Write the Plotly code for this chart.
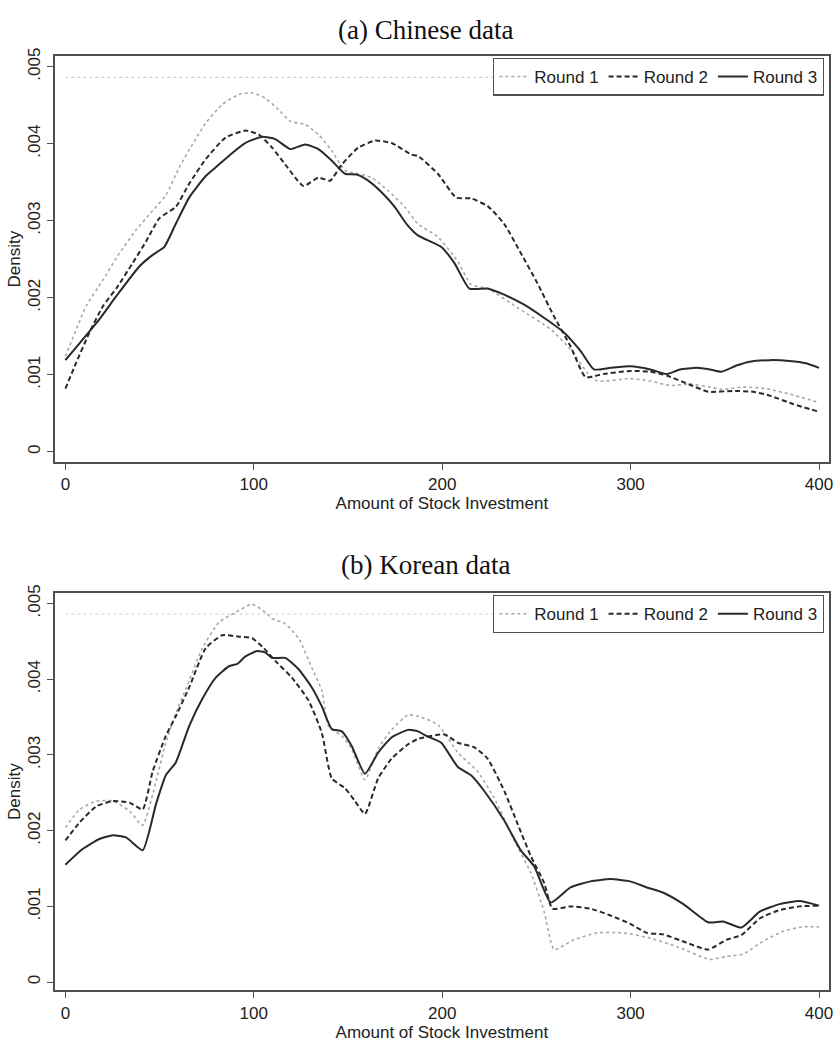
import plotly.graph_objects as go

# ---------------- data ----------------
# (a) Chinese data
cn_r1_x = [0, 11, 19.9, 28.7, 37.5, 46.3, 53.3, 60.4, 67.4, 74.5, 83.3, 92.1, 99.1, 106.2, 113.2, 119.4,
           127.3, 134.3, 141.4, 148.4, 155.5, 162.5, 171.3, 180.1, 187.1, 197.7, 208.3, 215.3, 224.1,
           240, 257.6, 268.1, 276.9, 282.2, 299.8, 310.4, 320.9, 331.5, 342.1, 348.2, 359.7, 372.1, 384.3, 400]
cn_r1_y = [1.24, 1.89, 2.23, 2.58, 2.88, 3.13, 3.33, 3.69, 3.99, 4.27, 4.51, 4.64, 4.66, 4.59, 4.44, 4.29,
           4.25, 4.12, 3.91, 3.65, 3.61, 3.56, 3.39, 3.18, 2.96, 2.79, 2.47, 2.17, 2.12,
           1.87, 1.59, 1.33, 1.03, 0.92, 0.95, 0.92, 0.86, 0.88, 0.84, 0.81, 0.84, 0.82, 0.75, 0.64]

cn_r2_x = [0, 5.8, 12.8, 19.9, 27, 35.7, 42.8, 49.8, 58.6, 65.7, 74.5, 85, 95.6, 102.6, 109.7, 116.7, 122,
           126.4, 134.3, 140.5, 146.7, 155.5, 164.3, 173.1, 183.6, 187.1, 197.7, 207.4, 215.3, 224.1,
           232.9, 241.7, 250.5, 259.3, 268.1, 276.1, 285.7, 299.8, 310.4, 319.2, 331.5, 341.2, 354.4,
           365, 373.8, 386.2, 400]
cn_r2_y = [0.82, 1.16, 1.55, 1.89, 2.12, 2.45, 2.73, 3.03, 3.18, 3.48, 3.80, 4.08, 4.17, 4.12, 3.95, 3.73, 3.56,
           3.45, 3.56, 3.52, 3.73, 3.95, 4.04, 4.01, 3.86, 3.84, 3.61, 3.30, 3.29, 3.19,
           2.96, 2.58, 2.19, 1.76, 1.37, 0.97, 1.01, 1.05, 1.04, 0.99, 0.87, 0.78, 0.79,
           0.78, 0.73, 0.62, 0.52]

cn_r3_x = [0, 18, 27, 39, 46, 52.5, 58.6, 65.7, 74.5, 80.6, 88.6, 95.6, 104.4, 111.4, 119.4, 127.3, 134.3,
           141.4, 148.4, 154.6, 160.7, 167.8, 174.8, 181, 187.1, 199.5, 206.5, 214.4, 224.1, 232.9, 243.5,
           254, 264.6, 273.4, 280.5, 289.3, 299.8, 310.4, 319.2, 326.2, 335, 342.1, 348.2, 356.2, 363.2,
           373.8, 384.3, 393.1, 400]
cn_r3_y = [1.19, 1.72, 2.02, 2.40, 2.55, 2.66, 2.96, 3.30, 3.58, 3.71, 3.88, 4.01, 4.09, 4.06, 3.93, 3.99, 3.93,
           3.78, 3.61, 3.60, 3.52, 3.37, 3.18, 2.96, 2.81, 2.66, 2.45, 2.12, 2.12, 2.04, 1.91,
           1.74, 1.55, 1.31, 1.07, 1.09, 1.11, 1.07, 1.01, 1.07, 1.09, 1.07, 1.04, 1.12, 1.17,
           1.19, 1.18, 1.15, 1.09]

# (b) Korean data
kr_r1_x = [0, 7.6, 16.4, 25.2, 34, 41, 48.1, 53.3, 58.6, 65.7, 72.7, 81.5, 90.3, 99.1, 106.2, 109.7, 116.7,
           123.8, 130.8, 136.1, 139.6, 146.7, 151.9, 159, 166, 173.1, 181.9, 187.1, 197.7, 208.3, 218.8,
           227.6, 238.2, 247.1, 254.1, 259.4, 269.9, 282.2, 296.3, 310.4, 324.4, 342.1, 350.9, 359.7,
           370.3, 380.9, 391.5, 400]
kr_r1_y = [2.04, 2.28, 2.39, 2.39, 2.26, 2.07, 2.65, 3.16, 3.55, 3.98, 4.41, 4.75, 4.88, 4.99, 4.88, 4.80, 4.73,
           4.54, 4.15, 3.85, 3.38, 3.25, 3.08, 2.67, 3.08, 3.33, 3.53, 3.51, 3.40, 3.03, 2.78,
           2.43, 1.87, 1.44, 0.93, 0.43, 0.56, 0.65, 0.65, 0.58, 0.47, 0.30, 0.34, 0.37,
           0.54, 0.67, 0.73, 0.73]

kr_r2_x = [0, 7.6, 16.4, 25.2, 34, 41, 46.3, 53.3, 58.6, 65.7, 74.5, 83.3, 92.1, 99.1, 105.3, 111.4, 120.2,
           129, 136.1, 141.4, 148.4, 153.7, 159, 166, 173.1, 181.9, 187.1, 201.2, 208.3, 217.1, 224.1,
           233, 240, 247.1, 254.1, 258.5, 268.1, 278.7, 289.3, 299.8, 308.6, 317.4, 329.7, 341.2, 350.9,
           358.8, 368.5, 379, 389.6, 400]
kr_r2_y = [1.87, 2.11, 2.32, 2.39, 2.37, 2.28, 2.78, 3.25, 3.51, 3.89, 4.41, 4.58, 4.56, 4.54, 4.41, 4.24, 4.02,
           3.72, 3.29, 2.69, 2.56, 2.39, 2.22, 2.69, 2.95, 3.14, 3.21, 3.27, 3.16, 3.10, 2.95,
           2.52, 2.09, 1.66, 1.31, 0.97, 1.00, 0.97, 0.88, 0.77, 0.65, 0.63, 0.52, 0.43, 0.56,
           0.62, 0.84, 0.95, 1.00, 1.01]

kr_r3_x = [0, 9.3, 18.1, 25.2, 32.2, 41, 48.1, 53.3, 58.6, 65.7, 72.7, 79.8, 86.8, 91.2, 95.6, 101.8, 106.2,
           109.7, 116.7, 123.8, 130.8, 136.1, 141.4, 146.7, 151.9, 159, 166, 173.1, 181.9, 187.1, 192.4,
           199.5, 208.3, 215.3, 222.4, 233, 241.7, 248.8, 257.6, 268.1, 278.7, 289.3, 299.8, 308.6, 317.4,
           328, 341.2, 349.1, 358.8, 368.5, 379, 389.6, 400]
kr_r3_y = [1.55, 1.76, 1.89, 1.94, 1.91, 1.74, 2.35, 2.73, 2.90, 3.38, 3.74, 4.02, 4.17, 4.20, 4.30, 4.37, 4.35,
           4.28, 4.28, 4.13, 3.89, 3.64, 3.34, 3.31, 3.12, 2.75, 3.03, 3.23, 3.33, 3.31, 3.24,
           3.16, 2.84, 2.73, 2.52, 2.13, 1.74, 1.53, 1.05, 1.25, 1.33, 1.36, 1.33, 1.25, 1.18,
           1.03, 0.79, 0.80, 0.72, 0.93, 1.03, 1.07, 1.01]

SCALE = 0.001  # values above are in thousandths of density
ref_line_y = 0.00486  # faint dotted horizontal line visible in both panels

series_names = ["Round 1", "Round 2", "Round 3"]
panel_titles = ["(a) Chinese data", "(b) Korean data"]
x_title = "Amount of Stock Investment"
y_title = "Density"
x_ticks = [0, 100, 200, 300, 400]
y_tickvals = [0, 0.001, 0.002, 0.003, 0.004, 0.005]
y_ticktext = ["0", ".001", ".002", ".003", ".004", ".005"]

# ---------------- figure ----------------
W, H = 838, 1043
SANS = "Liberation Sans, Arial, sans-serif"
styles = [
    dict(color="#a8a8a8", width=1.6, dash="dot", shape="spline", smoothing=0.5),
    dict(color="#2a2a2a", width=2.0, dash="5px,3px", shape="spline", smoothing=0.5),
    dict(color="#2a2a2a", width=2.0, dash="solid", shape="spline", smoothing=0.5),
]

fig = go.Figure()
panels = [
    [(cn_r1_x, cn_r1_y), (cn_r2_x, cn_r2_y), (cn_r3_x, cn_r3_y)],
    [(kr_r1_x, kr_r1_y), (kr_r2_x, kr_r2_y), (kr_r3_x, kr_r3_y)],
]
axes = [("x", "y", "legend"), ("x2", "y2", "legend2")]
for p, series in enumerate(panels):
    xa, ya, lg = axes[p]
    for i, (xs, ys) in enumerate(series):
        fig.add_trace(go.Scatter(
            x=xs, y=[v * SCALE for v in ys], mode="lines", name=series_names[i],
            line=styles[i], xaxis=xa, yaxis=ya, legend=lg, showlegend=True,
        ))

# pixel layout
plot_l, plot_r = 55, 833
top_t, top_b = 47.7, 457
bot_t, bot_b = 589, 990

def fx(px):
    return px / W

def fy(py):
    return 1 - py / H

axis_common = dict(
    showline=True, linecolor="#505050", linewidth=1.5, mirror=True,
    ticks="outside", ticklen=6, tickwidth=1.3, tickcolor="#505050",
    showgrid=False, zeroline=False,
    tickfont=dict(family=SANS, size=17, color="#222"),
)
xcommon = dict(axis_common, range=[-5.65, 405.3], tickvals=x_ticks,
               title=dict(text=x_title, standoff=3, font=dict(family=SANS, size=17, color="#222")))
ycommon = dict(axis_common, range=[-0.000133, 0.005135], tickvals=y_tickvals, ticktext=y_ticktext,
               tickangle=-90,
               title=dict(text=y_title, standoff=0, font=dict(family=SANS, size=17, color="#222")))

legend_common = dict(orientation="h", xanchor="right", yanchor="top",
                     bgcolor="white", bordercolor="#505050", borderwidth=1.3,
                     font=dict(family=SANS, size=17, color="#222"),
                     itemwidth=30, traceorder="normal")

fig.update_layout(
    width=W, height=H, margin=dict(l=0, r=0, t=0, b=0),
    paper_bgcolor="white", plot_bgcolor="white",
    xaxis=dict(xcommon, domain=[fx(plot_l), fx(plot_r)], anchor="y"),
    yaxis=dict(ycommon, domain=[fy(top_b), fy(top_t)], anchor="x"),
    xaxis2=dict(xcommon, domain=[fx(plot_l), fx(plot_r)], anchor="y2"),
    yaxis2=dict(ycommon, range=[-0.000110, 0.005138], domain=[fy(bot_b), fy(bot_t)], anchor="x2"),
    legend=dict(legend_common, x=fx(828), y=fy(49)),
    legend2=dict(legend_common, x=fx(828), y=fy(591)),
    showlegend=True,
)

# faint reference lines
for xa, ya in [("x", "y"), ("x2", "y2")]:
    fig.add_shape(type="line", xref=xa, yref=ya, x0=0, x1=400, y0=ref_line_y, y1=ref_line_y,
                  line=dict(color="#d0d0d0", width=1.2, dash="dot"), layer="below")

# panel titles
for title, py in zip(panel_titles, [21, 561]):
    fig.add_annotation(text=title, xref="paper", yref="paper", x=fx(428), y=fy(py),
                       xanchor="center", yanchor="middle", showarrow=False,
                       font=dict(family="Liberation Serif, Times New Roman, serif", size=27, color="#111"))

fig.write_html("out.html")
